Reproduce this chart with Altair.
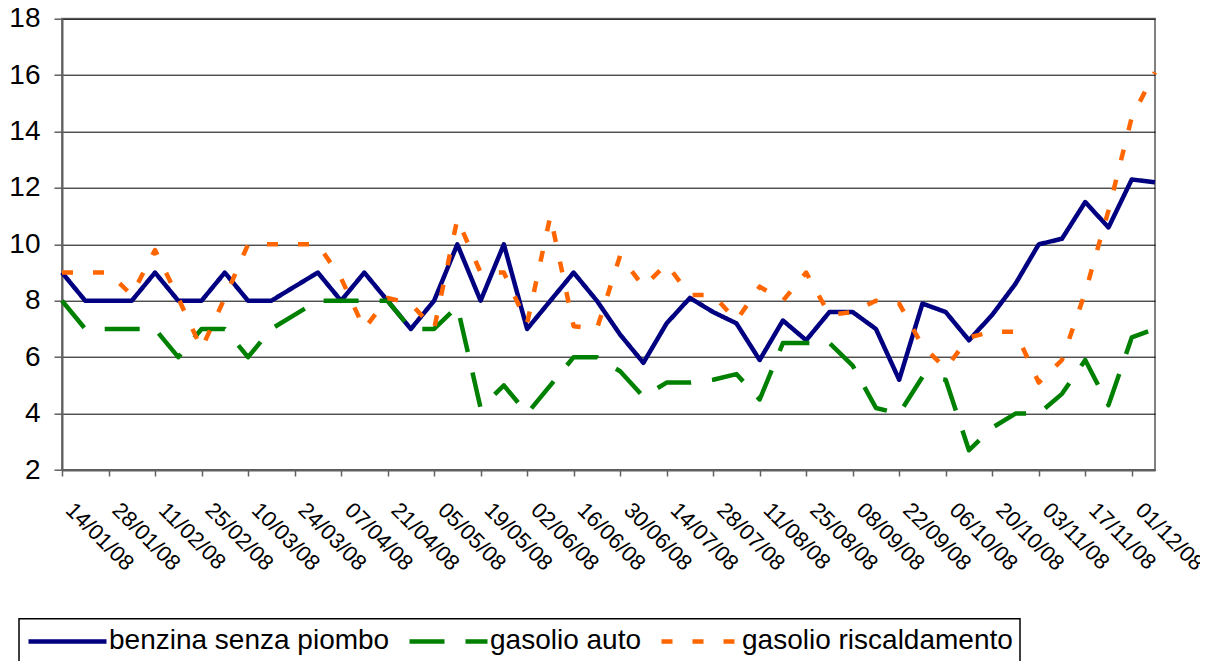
import altair as alt
import pandas as pd

dates = ["14/01/08", "21/01/08", "28/01/08", "04/02/08", "11/02/08", "18/02/08",
         "25/02/08", "03/03/08", "10/03/08", "17/03/08", "24/03/08", "31/03/08",
         "07/04/08", "14/04/08", "21/04/08", "28/04/08", "05/05/08", "12/05/08",
         "19/05/08", "26/05/08", "02/06/08", "09/06/08", "16/06/08", "23/06/08",
         "30/06/08", "07/07/08", "14/07/08", "21/07/08", "28/07/08", "04/08/08",
         "11/08/08", "18/08/08", "25/08/08", "01/09/08", "08/09/08", "15/09/08",
         "22/09/08", "29/09/08", "06/10/08", "13/10/08", "20/10/08", "27/10/08",
         "03/11/08", "10/11/08", "17/11/08", "24/11/08", "01/12/08", "08/12/08"]

benzina = [9, 8, 8, 8, 9, 8, 8, 9, 8, 8, 8.5, 9, 8, 9, 8, 7, 8, 10, 8, 10,
           7, 8, 9, 8, 6.8, 5.8, 7.2, 8.1, 7.6, 7.2, 5.9, 7.3, 6.6, 7.6, 7.6, 7.0,
           5.2, 7.9, 7.6, 6.6, 7.5, 8.6, 10.0, 10.2, 11.5, 10.6, 12.3, 12.2]

gasolio_auto = [8, 7, 7, 7, 7, 6, 7, 7, 6, 7, 7.5, 8, 8, 8, 8, 7, 7, 7.8, 4.2, 5.0,
                4.0, 5.0, 6.0, 6.0, 5.5, 4.6, 5.1, 5.1, 5.2, 5.4, 4.5, 6.5, 6.5, 6.5,
                5.7, 4.2, 4.0, 5.3, 5.2, 2.7, 3.5, 4.0, 4.0, 4.7, 5.9, 4.3, 6.7, 7.0]

gasolio_risc = [9, 9, 9, 8.2, 9.8, 8.1, 6.3, 8.1, 10, 10, 10, 10, 8.8, 7.0, 8.1, 7.9,
                7.0, 10.9, 9.0, 9.0, 7.2, 11.0, 7.1, 7.0, 9.6, 8.5, 9.3, 8.2, 8.2, 7.3,
                8.5, 8.0, 9.0, 7.5, 7.6, 8.0, 7.9, 6.4, 5.6, 6.7, 6.9, 6.9, 5.1, 5.9,
                8.3, 11.2, 14.5, 16.1]

series_names = ["benzina senza piombo", "gasolio auto", "gasolio riscaldamento"]
series_values = [benzina, gasolio_auto, gasolio_risc]
colors = ["#000080", "#008000", "#FF6600"]
dashes = [[1, 0], [35, 21], [11, 20]]
y_ticks = [2, 4, 6, 8, 10, 12, 14, 16, 18]
x_ticks = dates[::2]

rows = []
for name, vals in zip(series_names, series_values):
    for i, (d, v) in enumerate(zip(dates, vals)):
        rows.append({"date": d, "idx": i, "series": name, "value": v})
df = pd.DataFrame(rows)

FONT = "Liberation Sans"

base = alt.Chart(df).encode(
    x=alt.X(
        "date:O",
        sort=dates,
        scale=alt.Scale(type="point", padding=0),
        axis=alt.Axis(
            values=x_ticks,
            title=None,
            labelAngle=45,
            labelAlign="left",
            labelBaseline="middle",
            labelFont=FONT,
            labelFontSize=22,
            labelColor="#000000",
            labelPadding=30,
            labelOffset=7,
            tickSize=6,
            tickColor="#606060",
            tickWidth=1.5,
            domainColor="#606060",
            domainWidth=2,
            grid=False,
        ),
    ),
    y=alt.Y(
        "value:Q",
        scale=alt.Scale(domain=[2, 18], nice=False, zero=False),
        axis=alt.Axis(
            values=y_ticks,
            title=None,
            labelFont=FONT,
            labelFontSize=28,
            labelColor="#000000",
            labelPadding=14,
            tickSize=8,
            tickColor="#606060",
            tickWidth=1.5,
            domainColor="#606060",
            domainWidth=2,
            grid=True,
            gridColor="#000000",
            gridWidth=1,
        ),
    ),
    color=alt.Color(
        "series:N",
        title=None,
        scale=alt.Scale(domain=series_names, range=colors),
    ),
    strokeDash=alt.StrokeDash(
        "series:N",
        title=None,
        scale=alt.Scale(domain=series_names, range=dashes),
    ),
    order=alt.Order("idx:Q"),
)

layers = [
    base.transform_filter(alt.datum.series == name).mark_line(strokeWidth=4.5, strokeJoin="round")
    for name in series_names
]

chart = alt.layer(*layers).properties(
    width=1093,
    height=451.3,
    autosize=alt.AutoSizeParams(type="none"),
    padding={"left": 54, "top": 10.7, "right": 45, "bottom": 191},
).configure_view(
    stroke="#808080",
    strokeWidth=2,
).configure_legend(
    orient="none",
    legendX=-43,
    legendY=600,
    direction="horizontal",
    strokeColor="#000000",
    strokeWidth=1.5,
    padding=7,
    symbolType="M-1,0H5",
    symbolSize=676,
    symbolStrokeWidth=4.5,
    labelFont=FONT,
    labelFontSize=28,
    labelColor="#000000",
    labelLimit=0,
    labelOffset=52,
    columnPadding=10,
)

chart.save("out.html", embed_options={"renderer": "svg", "actions": False})
